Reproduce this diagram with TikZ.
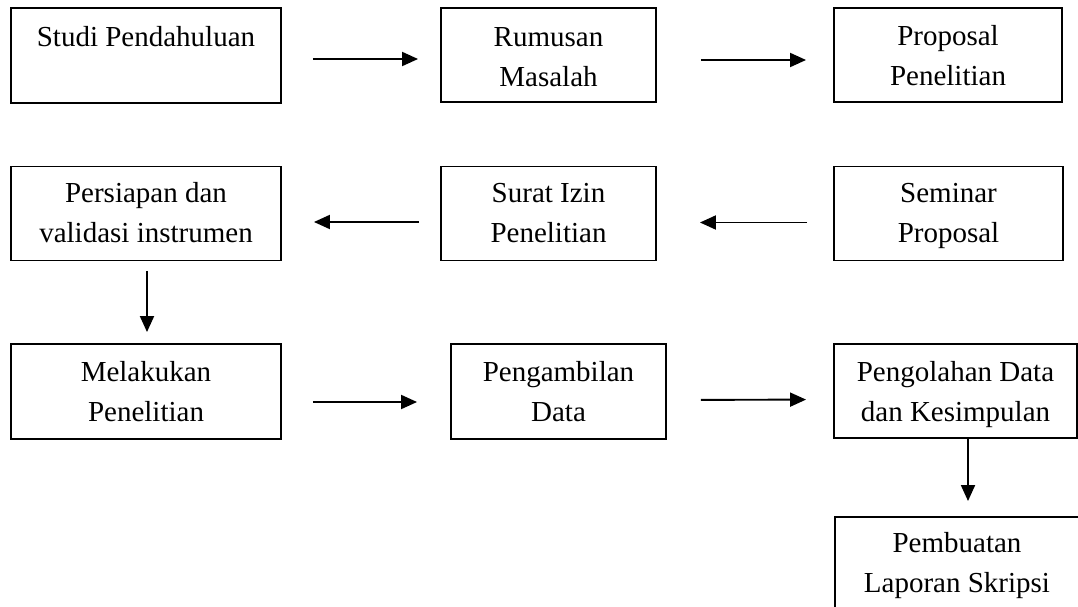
\documentclass[tikz,border=0pt]{standalone}
\usepackage{fontspec}
\setmainfont{Liberation Serif}
\usetikzlibrary{arrows.meta}
\begin{document}
\begin{tikzpicture}[x=1pt,y=-1pt,
  box/.style={draw, line width=1.9pt, inner sep=0pt},
  txt/.style={font=\fontsize{29}{40}\selectfont, align=center, anchor=base, inner sep=0pt},
  arr/.style={line width=1.9pt, -{Triangle[length=16pt,width=14pt]}}]
\useasboundingbox (0,0) rectangle (1078,607);
\clip (0,0) rectangle (1078,607);
% row 1
\node[box, minimum width=270pt, minimum height=95pt] (b1) at (146,55.5) {};
\node[box, minimum width=215pt, minimum height=94pt] (b2) at (548.5,55) {};
\node[box, minimum width=228pt, minimum height=94pt] (b3) at (948,55) {};
% row 2
\node[box, minimum width=270pt, minimum height=94pt] (b4) at (146,213.5) {};
\node[box, minimum width=215pt, minimum height=94pt] (b5) at (548.5,213.5) {};
\node[box, minimum width=229pt, minimum height=94pt] (b6) at (948.5,213.5) {};
% row 3
\node[box, minimum width=270pt, minimum height=95pt] (b7) at (146,391.5) {};
\node[box, minimum width=215pt, minimum height=95pt] (b8) at (558.5,391.5) {};
\node[box, minimum width=243pt, minimum height=94pt] (b9) at (955.5,391) {};
% row 4
\node[box, minimum width=244pt, minimum height=95pt] (b10) at (957,564.5) {};
% texts (base anchor = baseline of the last line)
\node[txt] (t1) at ([yshift=-39pt]b1.north) {Studi Pendahuluan};
\node[txt] (t2) at ([yshift=-79pt]b2.north) {Rumusan\\Masalah};
\node[txt] (t3) at ([yshift=-78pt]b3.north) {Proposal\\Penelitian};
\node[txt] (t4) at ([yshift=-77pt]b4.north) {Persiapan dan\\validasi instrumen};
\node[txt] (t5) at ([yshift=-77pt]b5.north) {Surat Izin\\Penelitian};
\node[txt] (t6) at ([yshift=-77pt]b6.north) {Seminar\\Proposal};
\node[txt] (t7) at ([yshift=-78pt]b7.north) {Melakukan\\Penelitian};
\node[txt] (t8) at ([yshift=-78pt]b8.north) {Pengambilan\\Data};
\node[txt] (t9) at ([yshift=-78pt]b9.north) {Pengolahan Data\\dan Kesimpulan};
\node[txt] (t10) at ([yshift=-76pt]b10.north) {Pembuatan\\Laporan Skripsi};
% arrows
\draw[arr, shorten <=31pt, shorten >=22pt] ([yshift=-3.5pt]b1.east) -- ([yshift=-4pt]b2.west);
\draw[arr, shorten <=44pt, shorten >=27pt] ([yshift=-5pt]b2.east) -- ([yshift=-5pt]b3.west);
\draw[arr, shorten <=26pt, shorten >=43pt] ([yshift=-9pt]b6.west) -- ([yshift=-9pt]b5.east);
\draw[arr, shorten <=21pt, shorten >=32pt] ([yshift=-8.5pt]b5.west) -- ([yshift=-8.5pt]b4.east);
\draw[arr, shorten <=9.5pt, shorten >=11pt] ([xshift=1pt]b4.south) -- ([xshift=1pt]b7.north);
\draw[arr, shorten <=31pt, shorten >=33pt] ([yshift=-10.5pt]b7.east) -- ([yshift=-10.5pt]b8.west);
\draw[arr, shorten <=34pt, shorten >=27pt] ([yshift=-8.5pt]b8.east) -- ([yshift=-8.5pt]b9.west);
\draw[arr, shorten >=15pt] ([xshift=12.5pt]b9.south) -- ([xshift=12.5pt]b9.south |- b10.north);
\end{tikzpicture}
\end{document}
